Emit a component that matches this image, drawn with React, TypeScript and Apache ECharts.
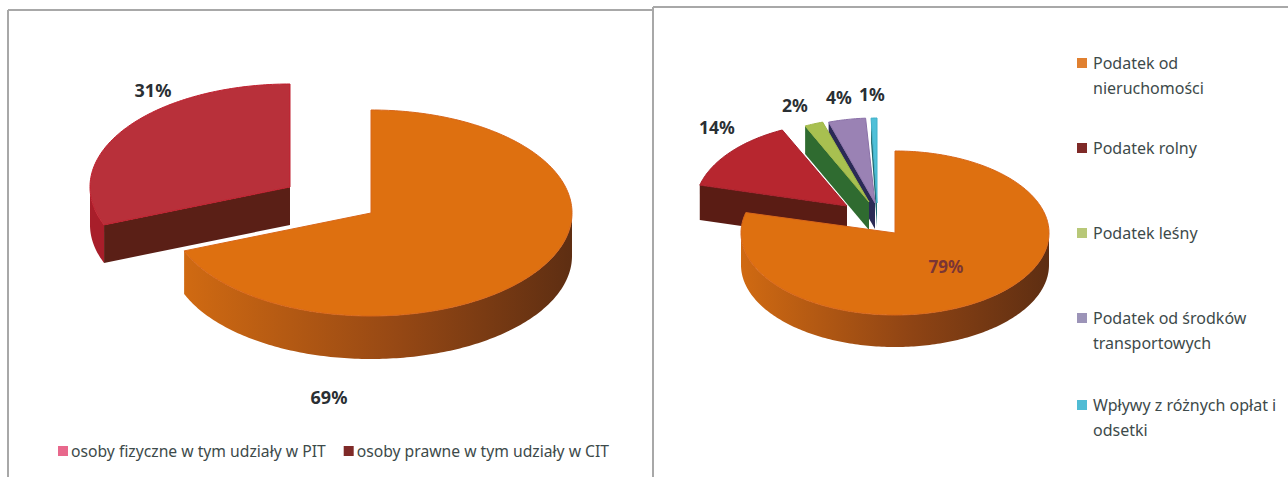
import React, { useEffect, useRef } from "react";
import * as echarts from "echarts";

const leftCategories = ["osoby prawne w tym udziały w CIT", "osoby fizyczne w tym udziały w PIT"];
const leftValues = [69, 31];
const rightCategories = [
  "Podatek od nieruchomości",
  "Podatek rolny",
  "Podatek leśny",
  "Podatek od środków transportowych",
  "Wpływy z różnych opłat i odsetki",
];
const rightValues = [79, 14, 2, 4, 1];
const rightLegendLines = [
  ["Podatek od", "nieruchomości"],
  ["Podatek rolny"],
  ["Podatek leśny"],
  ["Podatek od środków", "transportowych"],
  ["Wpływy z różnych opłat i", "odsetki"],
];

const FONT = "'Noto Sans', sans-serif";
const toRad = (d: number) => (d * Math.PI) / 180;

type SliceStyle = {
  cx: number; cy: number; rx: number; ry: number; depth: number;
  top: string; rim: string; cut: string; wall: any;
  labelX: number; labelY: number; labelColor: string; labelWeight: string; labelSize: number;
};

const wallGrad = (a: string, b: string, c: string) =>
  new echarts.graphic.LinearGradient(0, 0, 1, 0, [
    { offset: 0, color: a },
    { offset: 0.55, color: b },
    { offset: 1, color: c },
  ]);

const leftStyles: SliceStyle[] = [
  { cx: 371, cy: 213, rx: 201, ry: 103, depth: 43, top: "#de7010", rim: "#d8661a", cut: "#8a4012",
    wall: wallGrad("#d06a12", "#964814", "#5e2e12"),
    labelX: 329, labelY: 397, labelColor: "#2a2f33", labelWeight: "bold", labelSize: 18 },
  { cx: 290, cy: 187, rx: 200, ry: 103, depth: 38, top: "#b8303a", rim: "#c01f2e", cut: "#5a1f16",
    wall: "#a81e2a",
    labelX: 153, labelY: 90, labelColor: "#2a2f33", labelWeight: "bold", labelSize: 18 },
];

const rightStyles: SliceStyle[] = [
  { cx: 895, cy: 233, rx: 154, ry: 82, depth: 32, top: "#de7010", rim: "#d8661a", cut: "#8a4012",
    wall: wallGrad("#d06a12", "#8f4414", "#5e2e12"),
    labelX: 946, labelY: 266, labelColor: "#7a3535", labelWeight: "bold", labelSize: 17 },
  { cx: 847, cy: 206, rx: 152, ry: 84, depth: 35, top: "#b7262f", rim: "#a81e2a", cut: "#5a1c14",
    wall: "#5a1c14",
    labelX: 717, labelY: 127, labelColor: "#2a2f33", labelWeight: "bold", labelSize: 17.5 },
  { cx: 869, cy: 202, rx: 150, ry: 84, depth: 28, top: "#a8c050", rim: "#a0b848", cut: "#2f6b30",
    wall: "#2f6b30",
    labelX: 795, labelY: 105, labelColor: "#2a2f33", labelWeight: "bold", labelSize: 17.5 },
  { cx: 875, cy: 203, rx: 150, ry: 85, depth: 26, top: "#9a82b4", rim: "#8a70a8", cut: "#2a2a55",
    wall: "#2a2a55",
    labelX: 839, labelY: 97, labelColor: "#2a2f33", labelWeight: "bold", labelSize: 17.5 },
  { cx: 877, cy: 203, rx: 95, ry: 85, depth: 24, top: "#50c0d8", rim: "#40b0c8", cut: "#1f6a70",
    wall: "#1f6a70",
    labelX: 872, labelY: 94, labelColor: "#2a2f33", labelWeight: "bold", labelSize: 17.5 },
];

function rimPoint(s: SliceStyle, deg: number, dy = 0): number[] {
  return [s.cx + s.rx * Math.sin(toRad(deg)), s.cy - s.ry * Math.cos(toRad(deg)) + dy];
}

function arcPoints(s: SliceStyle, a: number, b: number, dy = 0): number[][] {
  const pts: number[][] = [];
  const n = Math.max(2, Math.ceil(Math.abs(b - a)));
  for (let i = 0; i <= n; i++) pts.push(rimPoint(s, a + ((b - a) * i) / n, dy));
  return pts;
}

function sliceSeries(names: string[], values: number[], styles: SliceStyle[], order: number[], baseZ: number) {
  const total = values.reduce((x, y) => x + y, 0);
  let acc = 0;
  return values.map((v, i) => {
    const startFrac = acc / total;
    acc += v;
    const s = styles[i];
    return {
      type: "custom",
      name: names[i],
      coordinateSystem: "none",
      silent: true,
      z: baseZ + order.indexOf(i),
      data: [[v, startFrac]],
      itemStyle: { color: s.top },
      renderItem: (_p: any, api: any) => {
        const val = api.value(0);
        const start = api.value(1) * 360;
        const end = start + (val / total) * 360;
        const children: any[] = [];
        if (start > 180) {
          children.push({
            type: "polygon",
            shape: { points: [[s.cx, s.cy], rimPoint(s, start), rimPoint(s, start, s.depth), [s.cx, s.cy + s.depth]] },
            style: { fill: s.cut },
          });
        }
        const wa = Math.max(start, 90);
        const wb = Math.min(end, 270);
        if (wb > wa) {
          const front = arcPoints(s, wa, wb);
          const back = arcPoints(s, wa, wb, s.depth).reverse();
          children.push({ type: "polygon", shape: { points: [...front, ...back] }, style: { fill: s.wall } });
        }
        children.push({
          type: "polygon",
          shape: { points: [[s.cx, s.cy], ...arcPoints(s, start, end)] },
          style: { fill: s.top, stroke: s.rim, lineWidth: 1 },
        });
        children.push({
          type: "text",
          z2: 20,
          style: {
            x: s.labelX, y: s.labelY, text: `${val}%`, align: "center", verticalAlign: "middle",
            fill: s.labelColor, font: `${s.labelWeight} ${s.labelSize}px ${FONT}`,
          },
        });
        return { type: "group", children };
      },
    };
  });
}

const rightLegendY = [63, 148, 233, 318, 405];
const rightLegendColors = ["#e08030", "#7f2a28", "#b8c878", "#9c94b8", "#50bcd4"];
const BORDER = { stroke: "#a8a8a8", lineWidth: 2 };

function borderLine(x1: number, y1: number, x2: number, y2: number) {
  return { type: "line", z: 1, shape: { x1, y1, x2, y2 }, style: BORDER };
}

export default function App() {
  const ref = useRef<HTMLDivElement>(null);
  useEffect(() => {
    const chart = echarts.init(ref.current!, undefined, { renderer: "svg" });
    const rightLegend: any[] = [];
    rightLegendLines.forEach((lines, i) => {
      rightLegend.push({
        type: "rect", z: 5, shape: { x: 1077, y: rightLegendY[i] - 5, width: 10, height: 10 },
        style: { fill: rightLegendColors[i] },
      });
      lines.forEach((line, j) => {
        rightLegend.push({
          type: "text", z: 5, x: 1093, y: rightLegendY[i] + j * 24.5,
          style: { text: line, fill: "#3d4a4a", font: `16px ${FONT}`, align: "left", verticalAlign: "middle" },
        });
      });
    });
    chart.setOption({
      animation: false,
      backgroundColor: "#ffffff",
      legend: {
        left: 53,
        top: 438,
        itemWidth: 10,
        itemHeight: 10,
        itemGap: 18,
        icon: "rect",
        selectedMode: false,
        textStyle: { fontFamily: FONT, fontSize: 15.7, color: "#3d4a4a", padding: [0, 0, 0, -2] },
        data: [
          { name: leftCategories[1], itemStyle: { color: "#e8688c" } },
          { name: leftCategories[0], itemStyle: { color: "#7f2a28" } },
        ],
      },
      graphic: [
        borderLine(8, 10, 8, 477),
        borderLine(8, 10, 653, 10),
        borderLine(653, 7, 653, 477),
        borderLine(653, 7, 1288, 7),
        ...rightLegend,
      ],
      series: [
        ...sliceSeries(leftCategories, leftValues, leftStyles, [1, 0], 2),
        ...sliceSeries(rightCategories, rightValues, rightStyles, [4, 3, 2, 1, 0], 2),
      ],
    });
    return () => chart.dispose();
  }, []);
  return <div ref={ref} style={{ position: "absolute", left: 0, top: 0, width: 1288, height: 477 }} />;
}
